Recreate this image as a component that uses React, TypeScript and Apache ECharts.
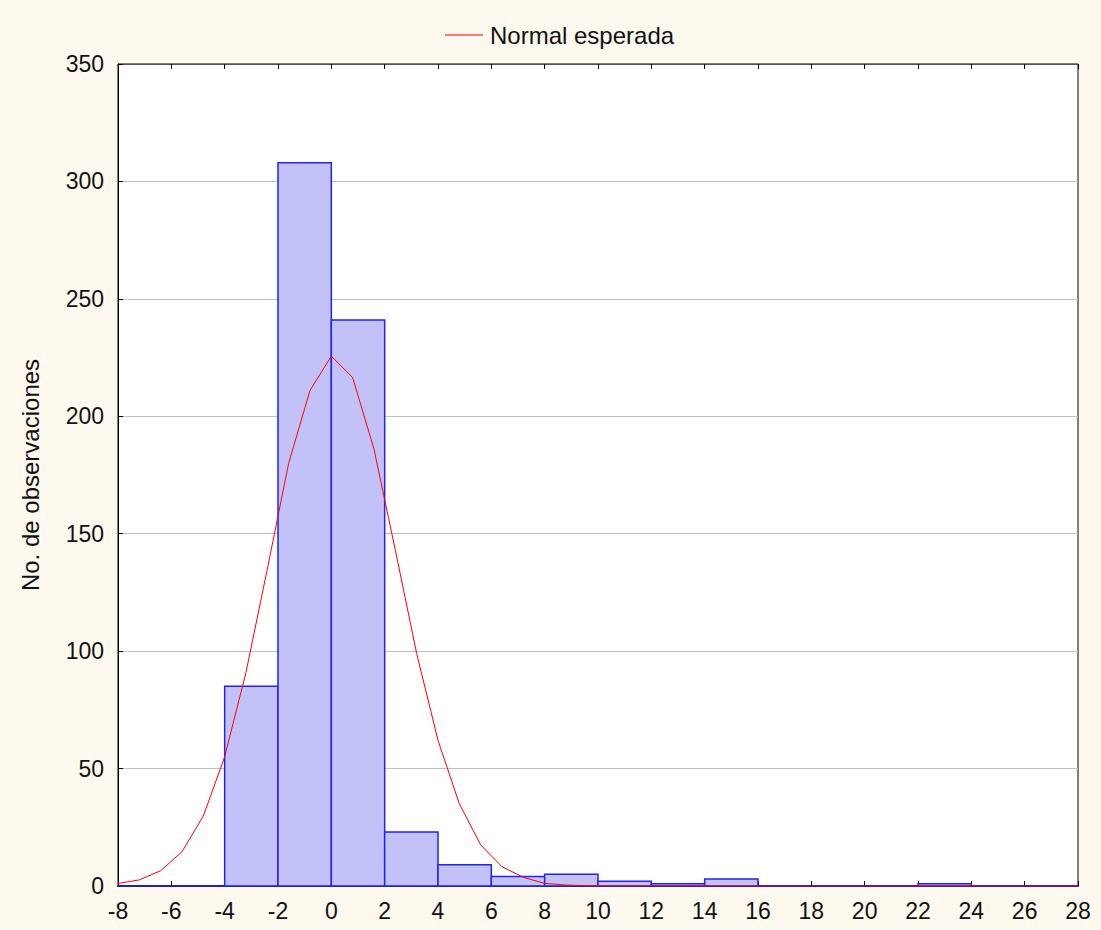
import React, { useEffect, useRef } from "react";
import * as echarts from "echarts";

const binStart = [-8, -6, -4, -2, 0, 2, 4, 6, 8, 10, 12, 14, 16, 18, 20, 22, 24, 26];
const binEnd = [-6, -4, -2, 0, 2, 4, 6, 8, 10, 12, 14, 16, 18, 20, 22, 24, 26, 28];
const counts = [0, 0, 85, 308, 241, 23, 9, 4, 5, 2, 1, 3, 0, 0, 0, 1, 0, 0];

const curveX = [
  -8, -7.2, -6.4, -5.6, -4.8, -4, -3.2, -2.4, -1.6, -0.8, 0, 0.8, 1.6, 2.4, 3.2, 4, 4.8, 5.6, 6.4, 7.2,
  8, 8.8, 9.6, 10.4, 11.2, 12, 12.8, 13.6, 14.4, 15.2, 16, 16.8, 17.6, 18.4, 19.2, 20, 20.8, 21.6,
  22.4, 23.2, 24, 24.8, 25.6, 26.4, 27.2, 28,
];
const curveY = [
  1.1, 2.6, 6.5, 14.6, 29.8, 55, 91, 135, 180, 211, 225.6, 216.5, 186, 143, 99, 62, 35, 17.5, 8.2, 3.7,
  1.1, 0.4, 0.1, 0, 0, 0, 0, 0, 0, 0, 0, 0, 0, 0, 0, 0, 0, 0,
  0, 0, 0, 0, 0, 0, 0, 0,
];

const xTicks = { min: -8, max: 28, interval: 2 };
const yTicks = { min: 0, max: 350, interval: 50 };

export default function App() {
  const ref = useRef<HTMLDivElement>(null);
  useEffect(() => {
    document.body.style.margin = "0";
    if (!ref.current) return;
    const chart = echarts.init(ref.current, undefined, { renderer: "svg" });
    const font = "Liberation Sans, Arial, sans-serif";
    const histData = binStart.map((s, i) => [s, binEnd[i], counts[i]]);
    const lineData = curveX.map((x, i) => [x, curveY[i]]);
    chart.setOption({
      animation: false,
      backgroundColor: "#FDF9EE",
      textStyle: { fontFamily: font },
      legend: {
        left: 440,
        top: 18,
        itemWidth: 38,
        itemHeight: 1,
        itemGap: 10,
        data: [{ name: "Normal esperada", icon: "rect" }],
        textStyle: { fontSize: 24, color: "#111", fontFamily: font, padding: [0, 0, 0, 2] },
      },
      grid: {
        left: 118,
        top: 64,
        width: 960,
        height: 822,
        show: true,
        backgroundColor: "#FFFFFF",
        borderColor: "#000",
        borderWidth: 1,
      },
      xAxis: [
        {
          type: "value",
          position: "bottom",
          ...xTicks,
          axisLine: { show: true, onZero: false, lineStyle: { color: "#1a1a4a", width: 2 } },
          axisTick: { show: true, inside: true, length: 5, lineStyle: { color: "#000" } },
          axisLabel: { fontSize: 23, color: "#111", margin: 13, fontFamily: font },
          splitLine: { show: false },
        },
        {
          type: "value",
          position: "top",
          ...xTicks,
          axisLine: { show: true, onZero: false, lineStyle: { color: "#555", width: 1 } },
          axisTick: { show: true, inside: true, length: 5, lineStyle: { color: "#000" } },
          axisLabel: { show: false },
          splitLine: { show: false },
        },
      ],
      yAxis: {
        type: "value",
        ...yTicks,
        name: "No. de observaciones",
        nameLocation: "middle",
        nameGap: 76,
        nameRotate: 90,
        nameTextStyle: { fontSize: 24, color: "#111", fontFamily: font },
        axisLine: { show: true, onZero: false, lineStyle: { color: "#000" } },
        axisTick: { show: true, inside: true, length: 5, lineStyle: { color: "#000" } },
        axisLabel: { fontSize: 23, color: "#111", margin: 14, fontFamily: font },
        splitLine: { show: true, lineStyle: { color: "#C0C0C0", width: 1 } },
      },
      series: [
        {
          type: "custom",
          name: "hist",
          xAxisIndex: 0,
          data: histData,
          encode: { x: [0, 1], y: 2 },
          z: 2,
          renderItem: (params: any, api: any) => {
            const p0 = api.coord([api.value(0), api.value(2)]);
            const p1 = api.coord([api.value(1), 0]);
            return {
              type: "rect",
              shape: { x: p0[0], y: p0[1], width: p1[0] - p0[0], height: p1[1] - p0[1] },
              style: { fill: "#C2C2F8", stroke: "#2222F2", lineWidth: 1.5 },
            };
          },
        },
        {
          type: "line",
          name: "Normal esperada",
          xAxisIndex: 0,
          data: lineData,
          symbol: "none",
          showSymbol: false,
          z: 5,
          lineStyle: { color: "#FF0000", width: 1 },
          itemStyle: { color: "#FF0000" },
        },
      ],
    });
    return () => chart.dispose();
  }, []);
  return <div ref={ref} style={{ width: 1101, height: 930 }} />;
}
